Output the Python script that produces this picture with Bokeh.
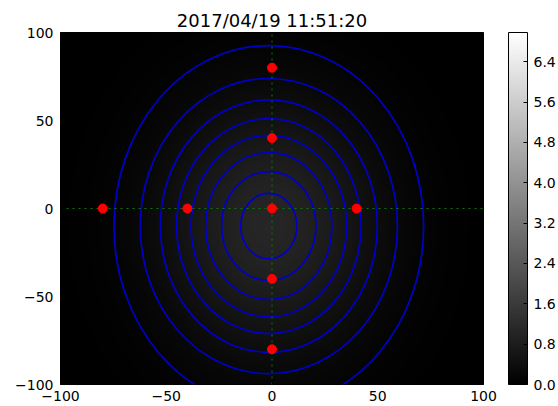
import numpy as np
from bokeh.plotting import figure
from bokeh.models import (Range1d, LinearColorMapper, ColorBar, FixedTicker,
                          PrintfTickFormatter, CustomJSTickFormatter)
from bokeh.palettes import gray
from bokeh.embed import file_html
from bokeh.resources import INLINE

title_text = "2017/04/19 11:51:20"
x_ticks = [-100, -50, 0, 50, 100]
y_ticks = [-100, -50, 0, 50, 100]
cbar_ticks = [0.0, 0.8, 1.6, 2.4, 3.2, 4.0, 4.8, 5.6, 6.4]
cbar_low = 0.0
cbar_high = 6.98

# bright spot (background image) parameters
spot_x0 = -1.5
spot_y0 = -10.0
spot_sx = 35.4
spot_sy = 49.5
spot_peak = 1.04

# contour ellipses: semi-axes in data units, innermost first
contour_rx = [13.3, 22.3, 29.8, 36.8, 43.6, 51.3, 60.8, 73.2]
contour_ry = [18.6, 30.9, 41.7, 51.6, 61.1, 71.7, 83.9, 102.6]

# red markers
pts_x = [0, 0, 0, 0, 0, -80, -40, 40]
pts_y = [80, 40, 0, -40, -80, 0, 0, 0]

# dotted cross lines
cross_h_x = [-100, 100]
cross_h_y = [0, 0]
cross_v_x = [0, 0]
cross_v_y = [-100, 100]

FONT = "DejaVu Sans"

xs = np.linspace(-100, 100, 200)
ys = np.linspace(-100, 100, 200)
X, Y = np.meshgrid(xs, ys)
Z = spot_peak * np.exp(-((X - spot_x0) ** 2 / (2 * spot_sx ** 2)
                         + (Y - spot_y0) ** 2 / (2 * spot_sy ** 2)))

mapper = LinearColorMapper(palette=gray(256), low=cbar_low, high=cbar_high)

p = figure(width=558, height=406, output_backend="svg", toolbar_location=None,
           x_range=Range1d(-100, 100), y_range=Range1d(-100, 100),
           title=title_text, min_border_left=60, min_border_right=75,
           min_border_top=32, min_border_bottom=22)
p.background_fill_color = "black"
p.border_fill_color = "white"
p.outline_line_color = "black"
p.grid.visible = False

p.title.text_font = FONT
p.title.text_font_size = "18px"
p.title.text_font_style = "normal"
p.title.text_color = "black"
p.title.align = "center"
p.title.standoff = 4

fmt = CustomJSTickFormatter(code="return tick < 0 ? '\u2212' + Math.abs(tick) : String(tick);")
for ax, ticks in ((p.xaxis[0], x_ticks), (p.yaxis[0], y_ticks)):
    ax.ticker = FixedTicker(ticks=ticks)
    ax.formatter = fmt
    ax.axis_line_color = None
    ax.major_tick_in = 4
    ax.major_tick_out = 0
    ax.major_tick_line_color = "black"
    ax.minor_tick_line_color = None
    ax.major_label_text_font = FONT
    ax.major_label_text_font_size = "14px"
    ax.major_label_text_color = "black"
p.xaxis.major_label_standoff = 6
p.yaxis.major_label_standoff = 7

p.image(image=[Z], x=-100, y=-100, dw=200, dh=200, color_mapper=mapper)

p.ellipse(x=[spot_x0] * len(contour_rx), y=[spot_y0] * len(contour_rx),
          width=[2 * r for r in contour_rx], height=[2 * r for r in contour_ry],
          fill_color=None, line_color="#0000c8", line_width=1.7)

p.line(cross_h_x, cross_h_y, line_color="#007f00", line_width=1, line_dash="2 4")
p.line(cross_v_x, cross_v_y, line_color="#007f00", line_width=1, line_dash="2 4")

p.scatter(pts_x, pts_y, size=9, fill_color="red", line_color="red")

cb = ColorBar(color_mapper=mapper, ticker=FixedTicker(ticks=cbar_ticks),
              formatter=PrintfTickFormatter(format="%.1f"),
              width=19, padding=0, margin=0, location=(25, 0),
              label_standoff=6, major_tick_in=4, major_tick_out=0,
              major_tick_line_color="black", minor_tick_line_color=None,
              bar_line_color="black", bar_line_width=1,
              border_line_color=None, background_fill_color=None,
              major_label_text_font=FONT, major_label_text_font_size="14px",
              major_label_text_color="black")
p.add_layout(cb, "right")

open("out.html", "w").write(file_html(p, INLINE))
